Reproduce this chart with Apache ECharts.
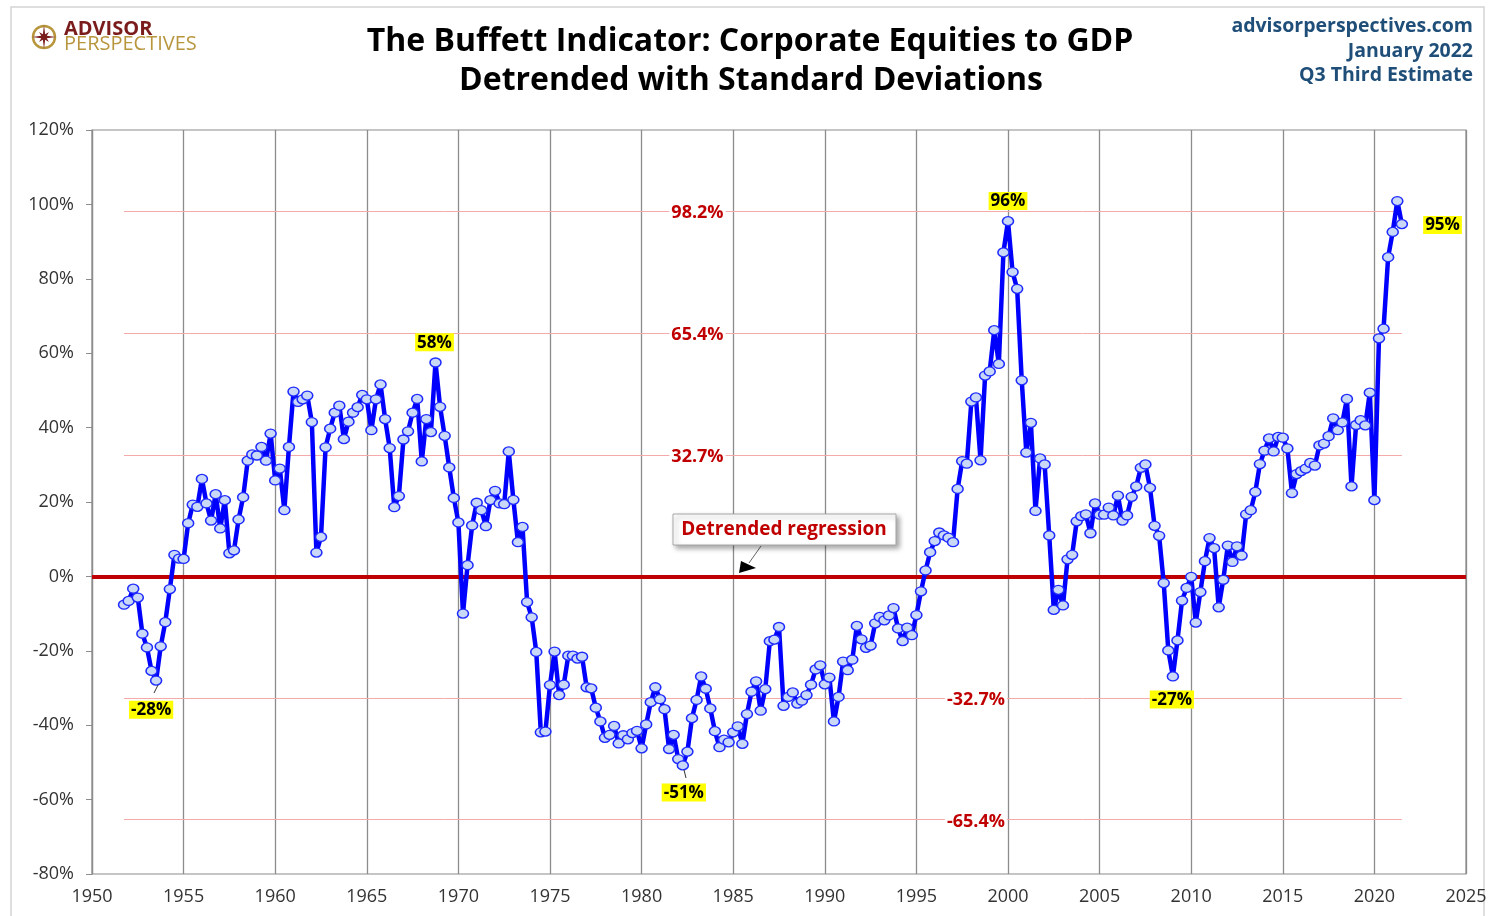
<!DOCTYPE html>
<html>
<head>
<meta charset="utf-8">
<script src="https://cdn.jsdelivr.net/npm/echarts@6/dist/echarts.min.js"></script>
<style>
  html, body { margin: 0; padding: 0; background: #fff; }
  #chart { width: 1493px; height: 916px; }
</style>
</head>
<body>
<div id="chart"></div>
<script>
// quarterly readings, first point is 1951 Q4
const startYear = 1951.75;
const quarterStep = 0.25;
const ratio = [
  -7.6, -6.6, -3.3, -5.7, -15.4, -19.1, -25.4, -28, -18.8, -12.3,
  -3.4, 5.8, 4.8, 4.7, 14.3, 19.3, 18.7, 26.2, 19.6, 15,
  22.1, 12.9, 20.5, 6.2, 7, 15.3, 21.3, 31.1, 32.8, 32.5,
  34.8, 31.1, 38.4, 25.8, 29, 17.8, 34.8, 49.7, 46.9, 47.6,
  48.6, 41.5, 6.4, 10.6, 34.7, 39.7, 44, 45.9, 36.9, 41.6,
  44, 45.5, 48.8, 47.6, 39.3, 47.6, 51.6, 42.3, 34.5, 18.6,
  21.6, 36.8, 39, 44, 47.7, 30.9, 42.3, 38.8, 57.5, 45.6,
  37.8, 29.3, 21.1, 14.5, -10, 3, 13.7, 19.8, 17.8, 13.5,
  20.5, 23, 19.6, 19.4, 33.6, 20.6, 9.2, 13.3, -6.9, -11,
  -20.3, -41.9, -41.7, -29.2, -20.2, -31.9, -29.1, -21.3, -21.3, -22.1,
  -21.6, -29.8, -30.1, -35.3, -39, -43.4, -42.6, -40.2, -44.9, -42.7,
  -43.8, -42.1, -41.5, -46.2, -39.8, -33.8, -29.8, -33, -35.7, -46.4,
  -42.6, -49.1, -50.8, -47.1, -38.1, -33.2, -26.9, -30.2, -35.5, -41.6,
  -45.9, -43.9, -44.6, -41.9, -40.3, -45, -37, -31, -28.2, -36.1,
  -30.3, -17.4, -17, -13.6, -34.8, -32.4, -31.2, -34.2, -33.4, -31.9,
  -29.1, -25, -23.9, -29, -27.2, -39, -32.4, -22.9, -25.2, -22.4,
  -13.3, -16.9, -19.2, -18.6, -12.6, -10.9, -11.8, -10.5, -8.5, -14,
  -17.4, -13.8, -15.8, -10.4, -4, 1.6, 6.5, 9.5, 11.8, 11,
  10.4, 9.2, 23.5, 31, 30.3, 47, 48.1, 31.2, 54, 55.1,
  66.2, 57.1, 87.1, 95.5, 81.8, 77.3, 52.7, 33.3, 41.3, 17.6,
  31.7, 30.1, 11, -9, -3.6, -7.8, 4.6, 5.8, 14.8, 16.2,
  16.7, 11.6, 19.6, 16.6, 16.6, 18.5, 16.4, 21.7, 15, 16.4,
  21.4, 24.2, 29.2, 30.1, 23.8, 13.6, 10.9, -1.8, -19.9, -26.9,
  -17.2, -6.5, -3.1, -0.1, -12.4, -4.2, 4.1, 10.3, 7.6, -8.3,
  -0.9, 8.3, 3.9, 8.1, 5.6, 16.7, 17.8, 22.7, 30.2, 33.8,
  37.1, 33.6, 37.5, 37.3, 34.4, 22.4, 27.5, 28.3, 29, 30.5,
  29.8, 35.2, 35.7, 37.7, 42.5, 39.3, 41.4, 47.7, 24.2, 40.7,
  42, 40.6, 49.4, 20.5, 64, 66.6, 85.8, 92.6, 100.9, 94.7
];
// standard deviation bands around the regression
const stdLevels = [98.2, 65.4, 32.7, -32.7, -65.4];
const stdLabels = ['98.2%', '65.4%', '32.7%', '-32.7%', '-65.4%'];
// highlighted extremes: quarter index and text
const peakIndex = [7, 68, 122, 193, 229, 279];
const peakText = ['-28%', '58%', '-51%', '96%', '-27%', '95%'];

const endYear = startYear + (ratio.length - 1) * quarterStep;
const FONT = 'Open Sans';

const peakPlace = {
  '-28%': { position: 'bottom', distance: 15, offset: [-5, 0] },
  '58%': { position: 'top', distance: 6, offset: [-1, 0] },
  '-51%': { position: 'bottom', distance: 13, offset: [1, 0] },
  '96%': { position: 'top', distance: 6, offset: [0, 0] },
  '-27%': { position: 'bottom', distance: 9, offset: [-1, 0] },
  '95%': { position: 'right', distance: 15, offset: [0, 1] }
};

const points = ratio.map((v, i) => [startYear + i * quarterStep, v]);
peakIndex.forEach((idx, k) => {
  const txt = peakText[k];
  points[idx] = {
    value: points[idx],
    label: Object.assign({
      show: true,
      formatter: txt,
      fontFamily: FONT,
      fontWeight: 'bold',
      fontSize: 17,
      color: '#000',
      backgroundColor: '#FFFF00',
      padding: [1, 2, 0, 2]
    }, peakPlace[txt])
  };
});

const stdLines = stdLevels.map(v => [
  { coord: [startYear, v] },
  { coord: [endYear, v] }
]);
const stdMarks = stdLevels.map((v, i) => ({
  coord: [v > 0 ? 1983.05 : 1998.25, v],
  label: {
    formatter: stdLabels[i],
    offset: [0, 2]
  }
}));

// little compass star for the logo
function starPoints(cx, cy) {
  const pts = [];
  for (let k = 0; k < 16; k++) {
    const a = -Math.PI / 2 + k * Math.PI / 8;
    const r = k % 4 === 0 ? 12 : (k % 2 === 0 ? 7 : 3);
    pts.push([cx + r * Math.cos(a), cy + r * Math.sin(a)]);
  }
  return pts;
}

const chart = echarts.init(document.getElementById('chart'));

const titleStyle = {
  textAlign: 'center', textVerticalAlign: 'middle',
  fontFamily: FONT, fontWeight: 'bold', fontSize: 32, fill: '#000'
};
const sourceStyle = {
  textAlign: 'right', textVerticalAlign: 'middle',
  fontFamily: FONT, fontWeight: 'bold', fontSize: 19.5, fill: '#1F4E79'
};

const option = {
  backgroundColor: '#fff',
  animation: false,
  grid: {
    left: 92,
    right: 27,
    top: 130,
    bottom: 42,
    show: true,
    borderColor: '#8c8c8c',
    borderWidth: 1.2
  },
  xAxis: {
    type: 'value',
    min: 1950,
    max: 2025,
    interval: 5,
    axisLine: { show: true, lineStyle: { color: '#8c8c8c', width: 1.2 } },
    axisTick: { show: false },
    axisLabel: {
      fontFamily: FONT,
      fontSize: 18,
      color: '#333',
      margin: 14,
      formatter: v => String(v)
    },
    splitLine: { show: true, lineStyle: { color: '#8c8c8c', width: 1.3 } }
  },
  yAxis: {
    type: 'value',
    min: -80,
    max: 120,
    interval: 20,
    axisLine: { show: true, lineStyle: { color: '#8c8c8c', width: 1.2 } },
    axisTick: { show: true, length: 6, lineStyle: { color: '#8c8c8c' } },
    axisLabel: {
      fontFamily: FONT,
      fontSize: 18,
      color: '#333',
      margin: 18,
      formatter: '{value}%'
    },
    splitLine: { show: false }
  },
  series: [{
    type: 'line',
    data: points,
    z: 5,
    lineStyle: { color: '#0000FF', width: 4.5 },
    symbol: 'circle',
    symbolSize: [11, 9],
    showAllSymbol: true,
    itemStyle: { color: '#C9D8F6', borderColor: '#1E2BFF', borderWidth: 1.4 },
    emphasis: { disabled: true },
    markLine: {
      silent: true,
      symbol: 'none',
      label: { show: false },
      data: [
        { yAxis: 0, lineStyle: { color: '#C00000', width: 4, type: 'solid' } }
      ].concat(stdLines.map(pair => [
        Object.assign({ lineStyle: { color: '#F5AAAA', width: 1, type: 'solid' } }, pair[0]),
        pair[1]
      ]))
    },
    markPoint: {
      silent: true,
      symbol: 'rect',
      symbolSize: 0,
      label: {
        show: true,
        position: 'inside',
        fontFamily: FONT,
        fontWeight: 'bold',
        fontSize: 18,
        color: '#C00000',
        backgroundColor: '#fff',
        padding: [0, 2]
      },
      data: stdMarks
    }
  }],
  graphic: [
    {
      type: 'rect', silent: true, z: -1,
      shape: { x: 11, y: 7, width: 1473, height: 940 },
      style: { fill: 'none', stroke: '#d4d4d4', lineWidth: 1.5 }
    },
    // title
    {
      type: 'text', silent: true,
      style: Object.assign({ x: 750, y: 42, text: 'The Buffett Indicator: Corporate Equities to GDP' }, titleStyle)
    },
    {
      type: 'text', silent: true,
      style: Object.assign({ x: 751, y: 81, text: 'Detrended with Standard Deviations' }, titleStyle)
    },
    // logo
    {
      type: 'circle', silent: true,
      shape: { cx: 44, cy: 37, r: 11 },
      style: { fill: 'none', stroke: '#B8963E', lineWidth: 2.5 }
    },
    {
      type: 'polygon', silent: true,
      shape: { points: starPoints(44, 37) },
      style: { fill: '#7A1C1C' }
    },
    {
      type: 'text', silent: true,
      style: {
        x: 64, y: 29, text: 'ADVISOR', textVerticalAlign: 'middle',
        fontFamily: FONT, fontWeight: 'bold', fontSize: 20, fill: '#7A1C1C'
      }
    },
    {
      type: 'text', silent: true,
      style: {
        x: 64, y: 44, text: 'PERSPECTIVES', textVerticalAlign: 'middle',
        fontFamily: FONT, fontSize: 20, fill: '#B8963E'
      }
    },
    // source block, top right
    {
      type: 'text', silent: true,
      style: Object.assign({ x: 1473, y: 26, text: 'advisorperspectives.com' }, sourceStyle)
    },
    {
      type: 'text', silent: true,
      style: Object.assign({ x: 1473, y: 51, text: 'January 2022' }, sourceStyle)
    },
    {
      type: 'text', silent: true,
      style: Object.assign({ x: 1473, y: 75, text: 'Q3 Third Estimate' }, sourceStyle)
    },
    // leader ticks under two of the low labels
    {
      type: 'line', silent: true, z: 20,
      shape: { x1: 158, y1: 685, x2: 154, y2: 693 },
      style: { stroke: '#333', lineWidth: 1 }
    },
    {
      type: 'line', silent: true, z: 20,
      shape: { x1: 684, y1: 770, x2: 686, y2: 778 },
      style: { stroke: '#333', lineWidth: 1 }
    },
    // regression callout
    {
      type: 'line', silent: true, z: 20,
      shape: { x1: 761, y1: 546, x2: 749, y2: 563 },
      style: { stroke: '#666', lineWidth: 1 }
    },
    {
      type: 'polygon', silent: true, z: 21,
      shape: { points: [[739, 573], [741, 561], [756, 568]] },
      style: { fill: '#000' }
    },
    {
      type: 'rect', silent: true, z: 20,
      shape: { x: 673, y: 514, width: 223, height: 31 },
      style: {
        fill: '#fff', stroke: '#a6a6a6', lineWidth: 1,
        shadowBlur: 5, shadowColor: 'rgba(0,0,0,0.35)', shadowOffsetX: 3, shadowOffsetY: 3
      }
    },
    {
      type: 'text', silent: true, z: 21,
      style: {
        x: 784, y: 530, text: 'Detrended regression', textAlign: 'center', textVerticalAlign: 'middle',
        fontFamily: FONT, fontWeight: 'bold', fontSize: 19, fill: '#C00000'
      }
    }
  ]
};

chart.setOption(option);
</script>
</body>
</html>
